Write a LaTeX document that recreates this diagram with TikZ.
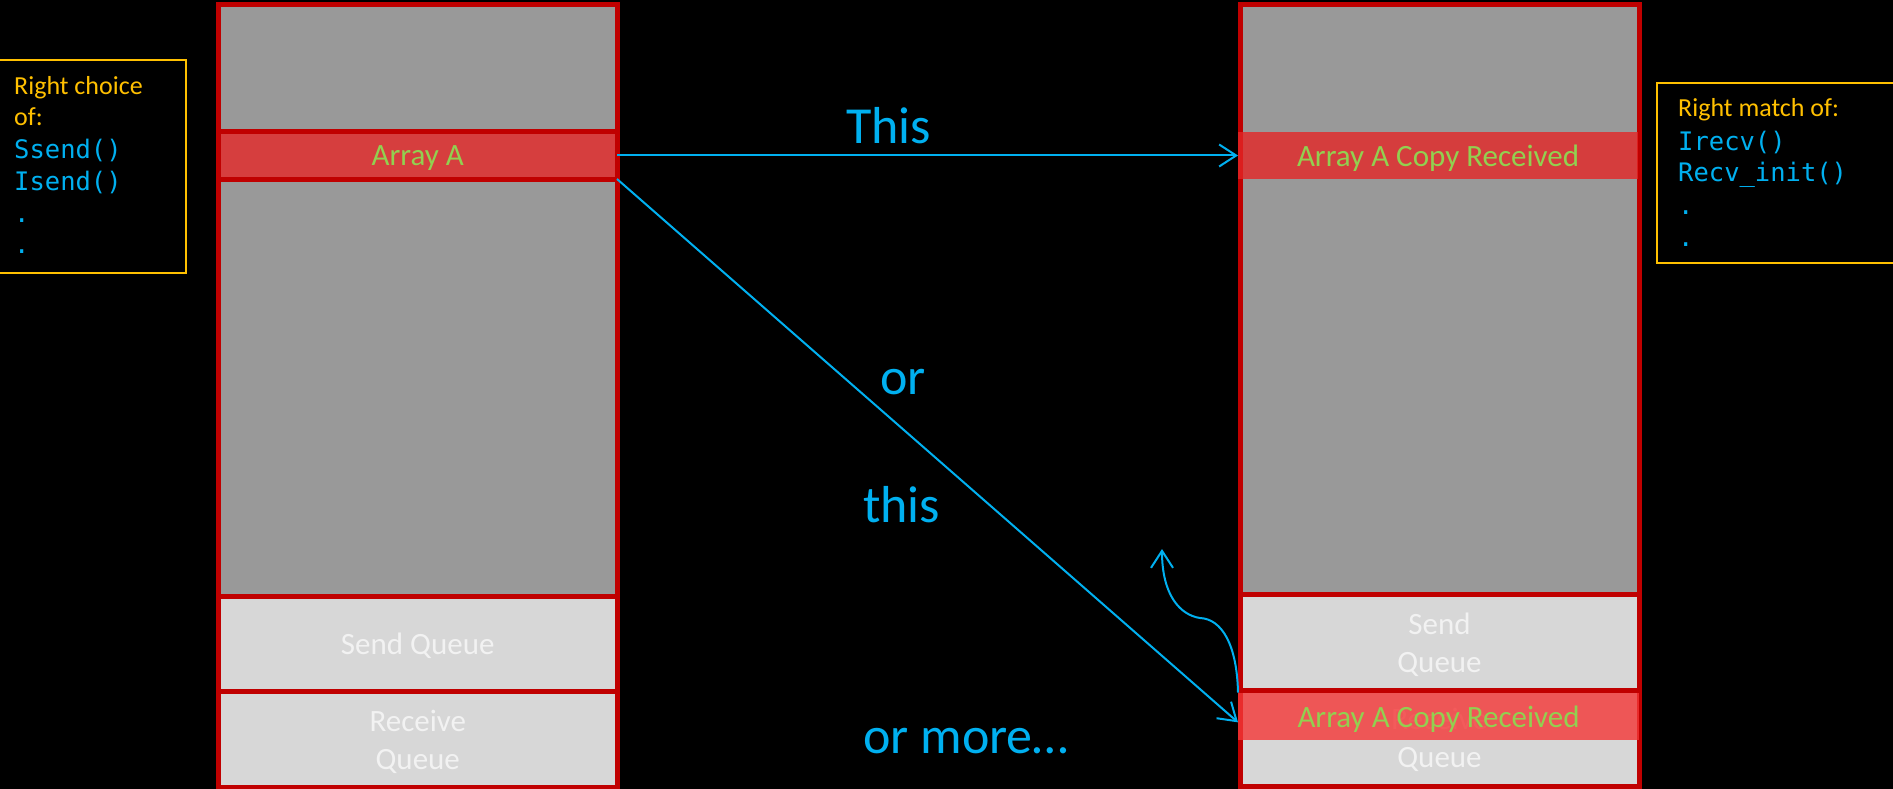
\documentclass[tikz,border=0pt]{standalone}
\usepackage{fontspec}
\setmainfont{Carlito}
\newfontfamily\codefont{DejaVu Sans Mono}
\usetikzlibrary{arrows.meta,calc}
\definecolor{cOrange}{HTML}{FFC000}
\definecolor{cCyan}{HTML}{00B0F0}
\definecolor{cGreen}{HTML}{92D050}
\definecolor{cRed}{HTML}{C00000}
\definecolor{cGray}{HTML}{999999}
\definecolor{cLight}{HTML}{D7D7D7}
\definecolor{cWhite}{HTML}{F2F2F2}
\definecolor{cArr}{HTML}{D63E3E}
\definecolor{cBandA}{HTML}{E42626}
\definecolor{cBandB}{HTML}{F43636}
\tikzset{
  sect/.style={draw=cRed, line width=5pt, inner sep=0pt, outer sep=0pt, align=center,
    text depth=0pt, font=\fontsize{31}{38}\selectfont},
  darksect/.style={sect, fill=cGray},
  lightsect/.style={sect, fill=cLight, text=cWhite},
  arrsect/.style={sect, fill=cArr, text=cGreen},
  band/.style={inner sep=0pt, outer sep=0pt, fill opacity=0.8, text opacity=1, text=cGreen,
    text depth=0pt, font=\fontsize{31}{38}\selectfont},
  ybox/.style={draw=cOrange, line width=2pt, inner sep=0pt, outer sep=0pt},
  otext/.style={anchor=base west, inner sep=0pt, text=cOrange, font=\fontsize{26}{31}\selectfont},
  ctext/.style={anchor=base west, inner sep=0pt, text=cCyan, font=\codefont\fontsize{25.5}{31}\selectfont},
  big/.style={anchor=base west, inner sep=0pt, text=cCyan, font=\fontsize{52}{60}\selectfont},
  conn/.style={draw=cCyan, line width=2pt, -{Straight Barb[length=17pt,width=22pt]}}
}
\begin{document}
\begin{tikzpicture}[x=1pt,y=-1pt]
\fill[black] (0,0) rectangle (1893,789);
\useasboundingbox (0,0) rectangle (1893,789);

% left column
\node[darksect, minimum width=398.5pt, minimum height=127.5pt] (ltop) at (417.75,68.25) {};
\node[arrsect, minimum width=398.5pt, minimum height=47pt] (larr) at (417.75,155.5) {Array A};
\node[darksect, minimum width=398.5pt, minimum height=417.5pt] (lmid) at (417.75,387.75) {};
\node[lightsect, minimum width=398.5pt, minimum height=95pt] (lsend) at (417.75,644) {Send Queue};
\node[lightsect, minimum width=398.5pt, minimum height=96pt] (lrecv) at (417.75,739.5) {Receive\\Queue};

% right column
\node[darksect, minimum width=399pt, minimum height=590pt] (rtop) at (1439.5,299.5) {};
\node[lightsect, minimum width=399pt, minimum height=96pt] (rsend) at (1439.5,642.5) {Send\\Queue};
\node[lightsect, minimum width=399pt, minimum height=95.5pt] (rrecv) at (1439.5,738.25) {Receive\\Queue};
\node[band, fill=cBandA, minimum width=400pt, minimum height=47.6pt] (band1) at (1438,155.5) {Array A Copy Received};
\node[band, fill=cBandB, minimum width=401pt, minimum height=47.3pt] (band2) at (1438.5,716.35) {Array A Copy Received};

% side boxes
\node[ybox, minimum width=196pt, minimum height=213pt] (lbox) at (88,166.5) {};
\node[otext] (l1) at (14,95) {Right choice};
\node[otext] (l2) at (14,126) {of:};
\node[ctext] (l3) at (14,159) {Ssend()};
\node[ctext] (l4) at (14,190) {Isend()};
\node[ctext] (l5) at (14,222) {.};
\node[ctext] (l6) at (14,253) {.};

\node[ybox, minimum width=253pt, minimum height=180pt] (rbox) at (1783.5,173) {};
\node[otext] (r1) at (1678,117) {Right match of:};
\node[ctext] (r2) at (1678,150) {Irecv()};
\node[ctext] (r3) at (1678,182) {Recv\_init()};
\node[ctext] (r4) at (1678,214) {.};
\node[ctext] (r5) at (1678,246) {.};

% big labels
\node[big] (tThis) at (846,143) {This};
\node[big] (tOr) at (880,394) {or};
\node[big] (tthis) at (863,522) {this};
\node[big] (tMore) at (863,753) {or more…};

% connectors
\draw[conn] (larr.east) -- (band1.west);
\draw[conn] (larr.south east) -- ($(band2.west)+(0,6)$);
\coordinate (cend) at (1162,549);
\draw[conn] (band2.north west) .. controls (1237,645) and (1222,619) .. (1200,618)
  .. controls (1180,615) and (1162,595) .. (cend);
\end{tikzpicture}
\end{document}
